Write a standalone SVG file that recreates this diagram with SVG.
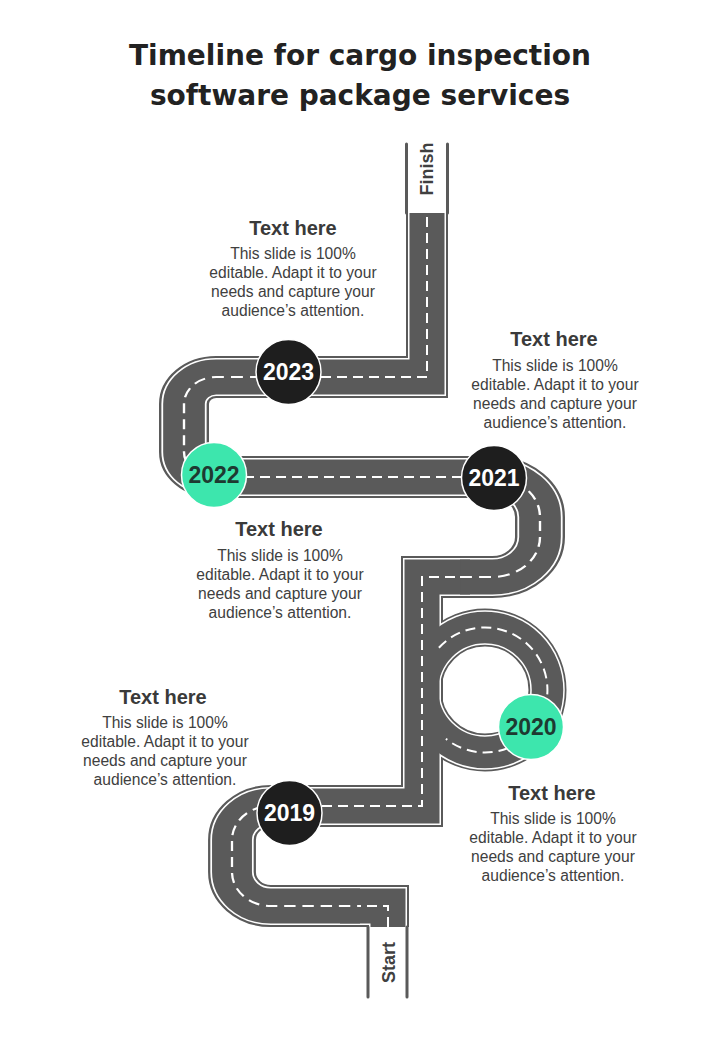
<svg xmlns="http://www.w3.org/2000/svg" xmlns:xlink="http://www.w3.org/1999/xlink" width="720" height="1040" viewBox="0 0 720 1040">
<style>
.edge{fill:none;stroke:#5a5a5a;stroke-width:42}
.white{fill:none;stroke:#ffffff;stroke-width:38}
.fill{fill:none;stroke:#5a5a5a;stroke-width:35}
.dash{fill:none;stroke:#ffffff;stroke-width:2;stroke-dasharray:10 6}
.edge .lp{stroke-width:38}
.white .lp{stroke-width:34.5}
.fill .lp{stroke-width:31.5}
.side{fill:none;stroke:#5a5a5a;stroke-width:3;stroke-linecap:round}
.title{font-family:"DejaVu Sans",sans-serif;font-weight:bold;font-size:28px;fill:#222222;text-anchor:middle}
.head{font-family:"Liberation Sans",Arial,sans-serif;font-weight:bold;font-size:20px;fill:#3a3a3a;text-anchor:middle}
.body{font-family:"Liberation Sans",Arial,sans-serif;font-size:15.6px;fill:#404040;text-anchor:middle}
.yr{font-family:"Liberation Sans",Arial,sans-serif;font-weight:bold;font-size:23px;text-anchor:middle}
.dark{fill:#1e1e1e;stroke:#ffffff;stroke-width:1.5}
.green{fill:#3de6ad;stroke:#ffffff;stroke-width:1.5}
.lbl{font-family:"Liberation Sans",Arial,sans-serif;font-weight:bold;font-size:18px;fill:#404040;text-anchor:middle}
</style>
<defs>
<path id="r1" d="M 388 927 L 388 906 L 340 906"/>
<path id="r2" d="M 290 806 L 422 806 L 422 577 L 470 577"/>
<path id="r3" d="M 505 477 L 214 477"/>
<path id="r4" d="M 280 377 L 427 377 L 427 213"/>
<path id="u1" transform="matrix(1.14 0 0 1 -32.48 0)" d="M 291.6 806 L 266 806 A 34 34 0 0 0 232 840 L 232 872 A 34 34 0 0 0 266 906 L 344.3 906"/>
<path id="s1" transform="matrix(1.19 0 0 1 -102.6 0)" d="M 472.8 577 L 500 577 A 40 40 0 0 0 540 537 L 540 517 A 40 40 0 0 0 500 477 L 498 477"/>
<path id="u2" transform="matrix(1.19 0 0 1 -34.96 0)" d="M 281.5 377 L 211 377 A 27 27 0 0 0 184 404 L 184 452 A 25 25 0 0 0 209 477 L 222.7 477"/>
<circle id="loop" cx="485" cy="690" r="62.5"/>
</defs>

<g id="connectors">
<g id="road">
<g class="edge">
<use href="#loop" class="lp"/>
<use href="#r1"/><use href="#r2"/><use href="#r3"/><use href="#r4"/>
<use href="#u1"/><use href="#s1"/><use href="#u2"/>
</g>
<g class="white">
<use href="#loop" class="lp"/>
<use href="#r1"/><use href="#r2"/><use href="#r3"/><use href="#r4"/>
<use href="#u1"/><use href="#s1"/><use href="#u2"/>
</g>
<g class="fill">
<use href="#loop" class="lp"/>
<use href="#r1"/><use href="#r2"/><use href="#r3"/><use href="#r4"/>
<use href="#u1"/><use href="#s1"/><use href="#u2"/>
</g>
<g class="dash">
<path d="M 388 927 L 388 906 L 360 906"/>
<use href="#u1"/>
<path d="M 322 806 L 422 806 L 422 577 L 460 577"/>
<use href="#s1"/>
<path d="M 462 477 L 246 477"/>
<use href="#u2"/>
<path d="M 321 377 L 427 377 L 427 215"/>
<path d="M 438.9 647.7 A 62.5 62.5 0 1 1 445.9 738.8"/>
</g>
</g>
<g id="start-section">
<line class="side" x1="368" y1="927" x2="368" y2="997"/>
<line class="side" x1="407" y1="927" x2="407" y2="997"/>
</g>
<g id="finish-section">
<line class="side" x1="406.5" y1="213" x2="406.5" y2="144"/>
<line class="side" x1="447.5" y1="213" x2="447.5" y2="144"/>
</g>
</g>

<g id="title">
<text class="title" x="360" y="65">Timeline for cargo inspection</text>
<text class="title" x="360" y="105">software package services</text>
</g>

<g id="finish"><text class="lbl" transform="translate(433,169) rotate(-90)">Finish</text></g>
<g id="start"><text class="lbl" transform="translate(395,962.5) rotate(-90)">Start</text></g>

<g id="node-2023">
<circle class="dark" cx="288.5" cy="372" r="32.5"/>
<text class="yr" x="288.5" y="380.2" fill="#ffffff">2023</text>
</g>
<g id="node-2022">
<circle class="green" cx="214" cy="475" r="32.5"/>
<text class="yr" x="214" y="483.2" fill="#1e3a31">2022</text>
</g>
<g id="node-2021">
<circle class="dark" cx="494" cy="478" r="32.5"/>
<text class="yr" x="494" y="486.2" fill="#ffffff">2021</text>
</g>
<g id="node-2020">
<circle class="green" cx="531" cy="727" r="32.5"/>
<text class="yr" x="531" y="735.2" fill="#1e3a31">2020</text>
</g>
<g id="node-2019">
<circle class="dark" cx="289.5" cy="813" r="32.5"/>
<text class="yr" x="289.5" y="821.2" fill="#ffffff">2019</text>
</g>

<g id="text-2023">
<text class="head" x="293" y="235">Text here</text>
<text class="body" x="293" y="258.5">This slide is 100%</text>
<text class="body" x="293" y="277.5">editable. Adapt it to your</text>
<text class="body" x="293" y="296.5">needs and capture your</text>
<text class="body" x="293" y="315.5">audience’s attention.</text>
</g>
<g id="text-2021">
<text class="head" x="554" y="346">Text here</text>
<text class="body" x="555" y="371">This slide is 100%</text>
<text class="body" x="555" y="390">editable. Adapt it to your</text>
<text class="body" x="555" y="409">needs and capture your</text>
<text class="body" x="555" y="428">audience’s attention.</text>
</g>
<g id="text-2022">
<text class="head" x="279" y="536">Text here</text>
<text class="body" x="280" y="561">This slide is 100%</text>
<text class="body" x="280" y="580">editable. Adapt it to your</text>
<text class="body" x="280" y="599">needs and capture your</text>
<text class="body" x="280" y="618">audience’s attention.</text>
</g>
<g id="text-2019">
<text class="head" x="163" y="704">Text here</text>
<text class="body" x="165" y="728">This slide is 100%</text>
<text class="body" x="165" y="747">editable. Adapt it to your</text>
<text class="body" x="165" y="766">needs and capture your</text>
<text class="body" x="165" y="785">audience’s attention.</text>
</g>
<g id="text-2020">
<text class="head" x="552" y="800">Text here</text>
<text class="body" x="553" y="824">This slide is 100%</text>
<text class="body" x="553" y="843">editable. Adapt it to your</text>
<text class="body" x="553" y="862">needs and capture your</text>
<text class="body" x="553" y="881">audience’s attention.</text>
</g>
</svg>
